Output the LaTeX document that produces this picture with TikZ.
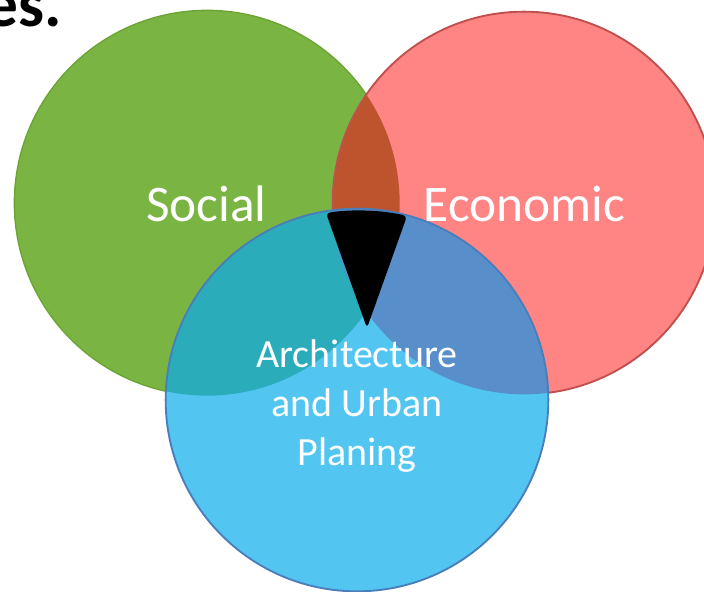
\documentclass[tikz,border=0pt]{standalone}
\usepackage{fontspec}
\setmainfont{Carlito}
\definecolor{socgreen}{RGB}{122,180,66}
\definecolor{socedge}{RGB}{108,164,52}
\definecolor{ecored}{RGB}{255,132,132}
\definecolor{ecoedge}{RGB}{192,80,77}
\definecolor{archblue}{RGB}{82,197,241}
\definecolor{archedge}{RGB}{74,126,187}
\definecolor{greenred}{RGB}{190,84,46}
\definecolor{greenblue}{RGB}{42,172,186}
\definecolor{redblue}{RGB}{88,143,203}

\begin{document}
\begin{tikzpicture}[x=0.75pt,y=-0.75pt,
    label/.style={text=white,inner sep=0pt}]
   \useasboundingbox (0,0) rectangle (704,592);
   \clip (0,0) rectangle (704,592);
   % centres of the three circles
   \coordinate (soc) at (207,203);
   \coordinate (eco) at (524,203);
   \coordinate (arch) at (357,400);
   \def\rs{144.5pt}
   \def\re{143.5pt}
   \def\ra{143.5pt}
   % social and economic
   \fill[socgreen] (soc) circle (\rs);
   \draw[socedge,line width=1pt] (soc) circle (\rs);
   \fill[ecored] (eco) circle (\re);
   \begin{scope}
     \clip (soc) circle (\rs);
     \fill[greenred] (eco) circle (\re);
   \end{scope}
   \draw[ecoedge,line width=1.4pt] (eco) circle (\re);
   % architecture on top
   \fill[archblue] (arch) circle (\ra);
   \begin{scope}
     \clip (arch) circle (\ra);
     \fill[greenblue] (soc) circle (\rs);
     \fill[redblue] (eco) circle (\re);
   \end{scope}
   \draw[archedge,line width=1.4pt] (arch) circle (\ra);
   % the middle
   \fill[black,rounded corners=3pt] (326,213) .. controls (352,209) and (382,210) .. (407,216)
      -- (367,328) -- cycle;
   \node[label,anchor=base,font=\fontsize{38.5}{46}\selectfont] (social) at (206.5,221) {Social};
   \node[label,anchor=base,font=\fontsize{38.5}{46}\selectfont] (economic) at (524.5,221) {Economic};
   \node[label,anchor=base,align=center,font=\fontsize{30}{36.4}\selectfont] (planing) at (357,465)
      {Architecture\\and Urban\\Planing};
   \node[anchor=base east,inner sep=0pt,font=\fontsize{49}{58}\selectfont\bfseries] (title) at (62,27) {es.};
  \end{tikzpicture}
\end{document}
